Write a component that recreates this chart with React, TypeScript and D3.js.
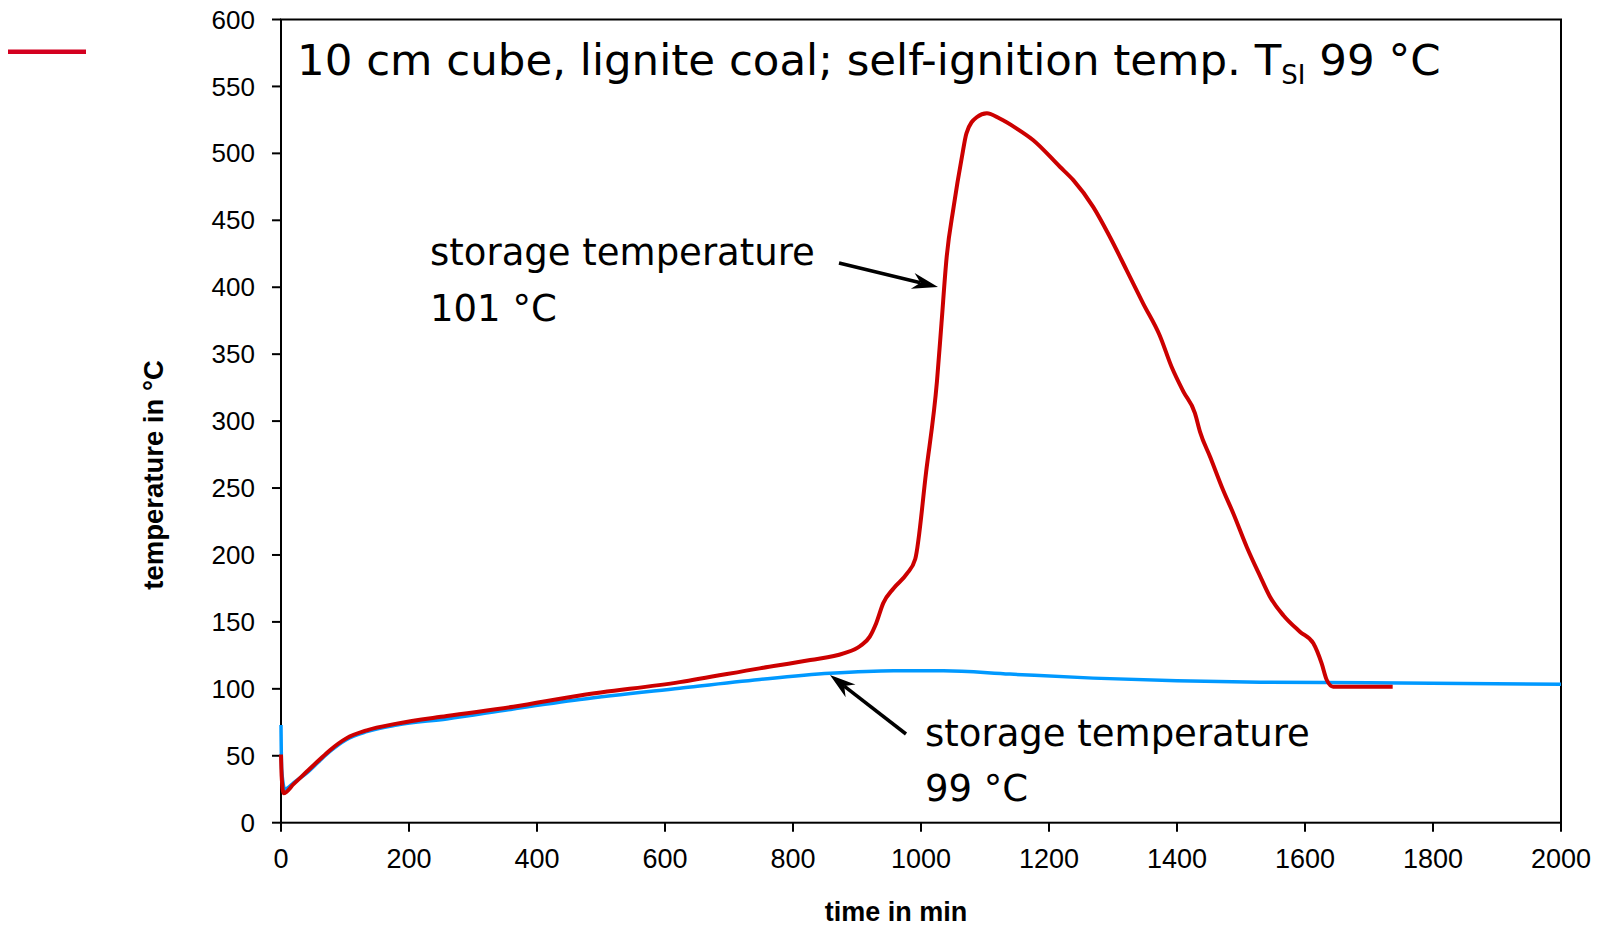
import React from "react";
import * as d3 from "d3";

const WIDTH = 1604;
const HEIGHT = 926;

// red: storage temperature 101 °C
const redTime = [0, 1, 4, 20, 40, 60, 76, 102, 134, 181, 259, 363, 467, 623, 748, 827, 879, 905, 920, 930, 941, 957, 978, 991, 1008, 1025, 1032, 1040, 1051, 1064, 1071, 1087, 1103, 1123, 1149, 1175, 1217, 1238, 1269, 1295, 1321, 1347, 1373, 1392, 1410, 1428, 1436, 1452, 1472, 1488, 1509, 1530, 1545, 1566, 1592, 1613, 1626, 1634, 1644, 1737];
const redTemp = [51, 35, 22, 29, 38, 47, 54, 63, 69, 74, 79.7, 86.6, 95, 105, 115.3, 121.5, 126.5, 132, 139, 149, 164, 175, 186, 197, 262, 330, 373, 422, 460, 497.5, 515, 527, 530, 526, 518.7, 510, 490, 480, 460, 437.7, 413, 388, 364, 340, 322, 306, 292, 273, 248.5, 231, 206, 184, 169, 155, 142.7, 134, 119, 106.6, 101.6, 101.6];

// blue: storage temperature 99 °C
const blueTime = [0, 1, 6, 20, 40, 60, 76, 102, 134, 181, 259, 363, 467, 623, 748, 858, 957, 1035, 1139, 1269, 1400, 1530, 1700, 2000];
const blueTemp = [73, 40, 25, 30, 37, 46, 53, 62, 68, 73, 77.5, 85, 92, 100.5, 107, 111.6, 113.5, 113.5, 111, 108, 106, 105, 104.5, 103.5];

const xTicks = [0, 200, 400, 600, 800, 1000, 1200, 1400, 1600, 1800, 2000];
const yTicks = [0, 50, 100, 150, 200, 250, 300, 350, 400, 450, 500, 550, 600];

const RED = "#cc0000";
const BLUE = "#0099ff";

const Arrow = ({x1, y1, x2, y2}: {x1: number; y1: number; x2: number; y2: number}) => {
    const ang = Math.atan2(y2 - y1, x2 - x1);
    const len = 26, half = 8, notch = 18;
    const p = (d: number, o: number) => {
        const bx = x2 - Math.cos(ang) * d;
        const by = y2 - Math.sin(ang) * d;
        return [bx - Math.sin(ang) * o, by + Math.cos(ang) * o];
    };
    const a = p(len, half), b = p(notch, 0), c = p(len, -half);
    return (
        <g>
            <line x1={x1} y1={y1} x2={b[0]} y2={b[1]} stroke="#000" strokeWidth={3.5} />
            <path d={`M${x2},${y2}L${a[0]},${a[1]}L${b[0]},${b[1]}L${c[0]},${c[1]}Z`} fill="#000" />
        </g>
    );
};

const App = () => {
    const xScale = d3.scaleLinear().domain([0, 2000]).range([281, 1561]);
    const yScale = d3.scaleLinear().domain([0, 600]).range([822.7, 19.5]);

    const line = d3.line<[number, number]>()
        .x((d) => xScale(d[0]))
        .y((d) => yScale(d[1]))
        .curve(d3.curveMonotoneX);

    const redPath = line(redTime.map((t, i) => [t, redTemp[i]]));
    const bluePath = line(blueTime.map((t, i) => [t, blueTemp[i]]));

    const x0 = xScale(0), x1 = xScale(2000);
    const y0 = yScale(0), y1 = yScale(600);

    return (
        <svg width={WIDTH} height={HEIGHT} style={{position: "absolute", left: 0, top: 0}}>
            <rect width={WIDTH} height={HEIGHT} fill="#fff" />

            {/* legend stub */}
            <line x1={8} x2={86} y1={51.7} y2={51.7} stroke="#d40020" strokeWidth={4.5} />

            {/* frame */}
            <rect x={x0} y={y1} width={x1 - x0} height={y0 - y1} fill="none" stroke="#000" strokeWidth={2} />

            {/* y ticks */}
            {yTicks.map((v) => (
                <g key={"y" + v}>
                    <line x1={x0 - 9} x2={x0} y1={yScale(v)} y2={yScale(v)} stroke="#000" strokeWidth={2} />
                    <text x={255} y={yScale(v)} dy="0.35em" textAnchor="end" fontSize={26}
                          fontFamily="'Liberation Sans', Arial, sans-serif" fill="#000">{v}</text>
                </g>
            ))}

            {/* x ticks */}
            {xTicks.map((v) => (
                <g key={"x" + v}>
                    <line x1={xScale(v)} x2={xScale(v)} y1={y0} y2={y0 + 9} stroke="#000" strokeWidth={2} />
                    <text x={xScale(v)} y={868} textAnchor="middle" fontSize={27}
                          fontFamily="'Liberation Sans', Arial, sans-serif" fill="#000">{v}</text>
                </g>
            ))}

            {/* axis titles */}
            <text x={896} y={921} textAnchor="middle" fontSize={27} fontWeight="bold"
                  fontFamily="'Liberation Sans', Arial, sans-serif">time  in  min</text>
            <text transform="translate(153,475) rotate(-90)" dy="0.35em" textAnchor="middle" fontSize={27.5}
                  fontWeight="bold" fontFamily="'Liberation Sans', Arial, sans-serif">temperature  in  °C</text>

            {/* curves */}
            <path d={bluePath || ""} fill="none" stroke={BLUE} strokeWidth={3.5} strokeLinejoin="round" />
            <path d={redPath || ""} fill="none" stroke={RED} strokeWidth={4} strokeLinejoin="round" />

            {/* title */}
            <text x={297} y={75} fontSize={43.5} fontFamily="'DejaVu Sans', Verdana, sans-serif" fill="#000">
                10 cm cube, lignite coal; self-ignition temp. T
                <tspan dy={9} fontSize={26}>SI</tspan>
                <tspan dy={-9}> 99 °C</tspan>
            </text>

            {/* annotations */}
            <g fontFamily="'DejaVu Sans', Verdana, sans-serif" fontSize={37} fill="#000">
                <text x={430} y={265}>storage temperature</text>
                <text x={430} y={321}>101 °C</text>
                <text x={925} y={746}>storage temperature</text>
                <text x={925} y={801}>99 °C</text>
            </g>
            <Arrow x1={839} y1={263} x2={938} y2={287} />
            <Arrow x1={906} y1={734} x2={830} y2={675} />
        </svg>
    );
};

export default App;
